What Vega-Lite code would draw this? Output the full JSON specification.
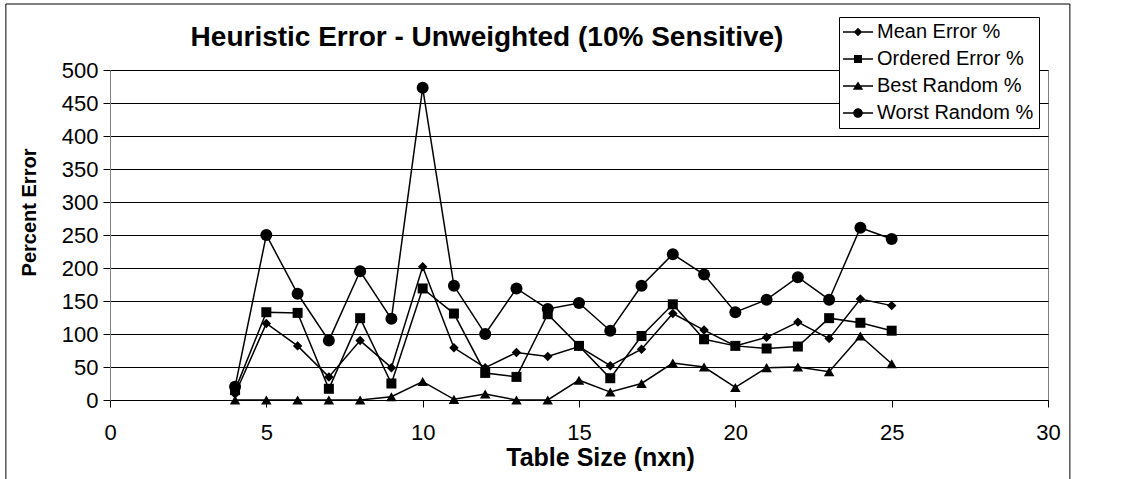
{
  "$schema": "https://vega.github.io/schema/vega-lite/v6.json",
  "width": 938,
  "height": 330,
  "autosize": "none",
  "padding": {"left": 110, "top": 70, "right": 76, "bottom": 79},
  "background": "white",
  "title": {
    "text": "Heuristic Error - Unweighted (10% Sensitive)",
    "font": "Liberation Sans",
    "fontSize": 28,
    "fontWeight": "bold",
    "color": "black",
    "anchor": "middle",
    "frame": "group",
    "dx": -92,
    "dy": 62,
    "offset": 14
  },
  "config": {
    "view": {"stroke": "#808080", "strokeWidth": 1},
    "axis": {
      "labelFont": "Liberation Sans",
      "titleFont": "Liberation Sans",
      "labelColor": "black",
      "titleColor": "black",
      "labelFontSize": 22,
      "titleFontWeight": "bold",
      "tickColor": "black",
      "tickSize": 7
    },
    "axisX": {
      "grid": false,
      "domainColor": "black",
      "labelPadding": 15,
      "titleFontSize": 25,
      "titlePadding": 2,
      "labelFlush": false
    },
    "axisY": {
      "grid": true,
      "gridColor": "black",
      "gridWidth": 1,
      "domainColor": "#808080",
      "labelPadding": 5,
      "titleFontSize": 20,
      "titlePadding": 22
    }
  },
  "datasets": {
    "frame": [{"frame": 1}],
    "errors": [
      {"n": 4, "series": "Mean Error %", "value": 9},
      {"n": 5, "series": "Mean Error %", "value": 116},
      {"n": 6, "series": "Mean Error %", "value": 82},
      {"n": 7, "series": "Mean Error %", "value": 35},
      {"n": 8, "series": "Mean Error %", "value": 90},
      {"n": 9, "series": "Mean Error %", "value": 49},
      {"n": 10, "series": "Mean Error %", "value": 202},
      {"n": 11, "series": "Mean Error %", "value": 79},
      {"n": 12, "series": "Mean Error %", "value": 49},
      {"n": 13, "series": "Mean Error %", "value": 72},
      {"n": 14, "series": "Mean Error %", "value": 66},
      {"n": 15, "series": "Mean Error %", "value": 81},
      {"n": 16, "series": "Mean Error %", "value": 52},
      {"n": 17, "series": "Mean Error %", "value": 77},
      {"n": 18, "series": "Mean Error %", "value": 131},
      {"n": 19, "series": "Mean Error %", "value": 106},
      {"n": 20, "series": "Mean Error %", "value": 82},
      {"n": 21, "series": "Mean Error %", "value": 95},
      {"n": 22, "series": "Mean Error %", "value": 118},
      {"n": 23, "series": "Mean Error %", "value": 93},
      {"n": 24, "series": "Mean Error %", "value": 153},
      {"n": 25, "series": "Mean Error %", "value": 143},
      {"n": 4, "series": "Ordered Error %", "value": 15},
      {"n": 5, "series": "Ordered Error %", "value": 133},
      {"n": 6, "series": "Ordered Error %", "value": 132},
      {"n": 7, "series": "Ordered Error %", "value": 17},
      {"n": 8, "series": "Ordered Error %", "value": 124},
      {"n": 9, "series": "Ordered Error %", "value": 25},
      {"n": 10, "series": "Ordered Error %", "value": 169},
      {"n": 11, "series": "Ordered Error %", "value": 131},
      {"n": 12, "series": "Ordered Error %", "value": 41},
      {"n": 13, "series": "Ordered Error %", "value": 35},
      {"n": 14, "series": "Ordered Error %", "value": 130},
      {"n": 15, "series": "Ordered Error %", "value": 82},
      {"n": 16, "series": "Ordered Error %", "value": 33},
      {"n": 17, "series": "Ordered Error %", "value": 97},
      {"n": 18, "series": "Ordered Error %", "value": 145},
      {"n": 19, "series": "Ordered Error %", "value": 92},
      {"n": 20, "series": "Ordered Error %", "value": 82},
      {"n": 21, "series": "Ordered Error %", "value": 78},
      {"n": 22, "series": "Ordered Error %", "value": 81},
      {"n": 23, "series": "Ordered Error %", "value": 124},
      {"n": 24, "series": "Ordered Error %", "value": 117},
      {"n": 25, "series": "Ordered Error %", "value": 105},
      {"n": 4, "series": "Best Random %", "value": 0},
      {"n": 5, "series": "Best Random %", "value": 0},
      {"n": 6, "series": "Best Random %", "value": 0},
      {"n": 7, "series": "Best Random %", "value": 0},
      {"n": 8, "series": "Best Random %", "value": 0},
      {"n": 9, "series": "Best Random %", "value": 5},
      {"n": 10, "series": "Best Random %", "value": 28},
      {"n": 11, "series": "Best Random %", "value": 1},
      {"n": 12, "series": "Best Random %", "value": 9},
      {"n": 13, "series": "Best Random %", "value": 0},
      {"n": 14, "series": "Best Random %", "value": 0},
      {"n": 15, "series": "Best Random %", "value": 30},
      {"n": 16, "series": "Best Random %", "value": 12},
      {"n": 17, "series": "Best Random %", "value": 25},
      {"n": 18, "series": "Best Random %", "value": 56},
      {"n": 19, "series": "Best Random %", "value": 50},
      {"n": 20, "series": "Best Random %", "value": 19},
      {"n": 21, "series": "Best Random %", "value": 49},
      {"n": 22, "series": "Best Random %", "value": 50},
      {"n": 23, "series": "Best Random %", "value": 43},
      {"n": 24, "series": "Best Random %", "value": 97},
      {"n": 25, "series": "Best Random %", "value": 55},
      {"n": 4, "series": "Worst Random %", "value": 20},
      {"n": 5, "series": "Worst Random %", "value": 250},
      {"n": 6, "series": "Worst Random %", "value": 161},
      {"n": 7, "series": "Worst Random %", "value": 90},
      {"n": 8, "series": "Worst Random %", "value": 195},
      {"n": 9, "series": "Worst Random %", "value": 123},
      {"n": 10, "series": "Worst Random %", "value": 473},
      {"n": 11, "series": "Worst Random %", "value": 173},
      {"n": 12, "series": "Worst Random %", "value": 100},
      {"n": 13, "series": "Worst Random %", "value": 169},
      {"n": 14, "series": "Worst Random %", "value": 138},
      {"n": 15, "series": "Worst Random %", "value": 147},
      {"n": 16, "series": "Worst Random %", "value": 105},
      {"n": 17, "series": "Worst Random %", "value": 173},
      {"n": 18, "series": "Worst Random %", "value": 221},
      {"n": 19, "series": "Worst Random %", "value": 190},
      {"n": 20, "series": "Worst Random %", "value": 133},
      {"n": 21, "series": "Worst Random %", "value": 152},
      {"n": 22, "series": "Worst Random %", "value": 186},
      {"n": 23, "series": "Worst Random %", "value": 152},
      {"n": 24, "series": "Worst Random %", "value": 261},
      {"n": 25, "series": "Worst Random %", "value": 244}
    ]
  },
  "layer": [
    {
      "data": {"name": "frame"},
      "mark": {"type": "rect", "fill": "transparent", "stroke": "black", "strokeWidth": 1, "clip": false},
      "encoding": {
        "x": {
          "datum": -3.33,
          "type": "quantitative",
          "title": "Table Size (nxn)",
          "scale": {"domain": [0, 30], "nice": false, "zero": false},
          "axis": {"values": [0, 5, 10, 15, 20, 25, 30], "titleX": 490}
        },
        "x2": {"datum": 30.7},
        "y": {
          "datum": 600,
          "type": "quantitative",
          "title": "Percent Error",
          "scale": {"domain": [0, 500], "nice": false},
          "axis": {"values": [0, 50, 100, 150, 200, 250, 300, 350, 400, 450, 500], "titleY": 142}
        },
        "y2": {"datum": -150}
      }
    },
    {
      "data": {"name": "errors"},
      "encoding": {
        "x": {
          "field": "n",
          "type": "quantitative",
          "title": "Table Size (nxn)",
          "scale": {"domain": [0, 30], "nice": false, "zero": false},
          "axis": {"values": [0, 5, 10, 15, 20, 25, 30], "titleX": 490}
        },
        "y": {
          "field": "value",
          "type": "quantitative",
          "title": "Percent Error",
          "scale": {"domain": [0, 500], "nice": false},
          "axis": {"values": [0, 50, 100, 150, 200, 250, 300, 350, 400, 450, 500], "titleY": 142}
        }
      },
      "layer": [
        {
          "mark": {"type": "line", "color": "black", "strokeWidth": 1.5},
          "encoding": {"detail": {"field": "series"}}
        },
        {
          "transform": [{"filter": "datum.series === 'Mean Error %'"}],
          "mark": {"type": "point", "shape": "diamond", "size": 90, "filled": true, "color": "black", "opacity": 1}
        },
        {
          "transform": [{"filter": "datum.series === 'Ordered Error %'"}],
          "mark": {"type": "point", "shape": "square", "size": 100, "filled": true, "color": "black", "opacity": 1}
        },
        {
          "transform": [{"filter": "datum.series === 'Best Random %'"}],
          "mark": {"type": "point", "shape": "triangle-up", "size": 110, "filled": true, "color": "black", "opacity": 1}
        },
        {
          "transform": [{"filter": "datum.series === 'Worst Random %'"}],
          "mark": {"type": "point", "shape": "circle", "size": 144, "filled": true, "color": "black", "opacity": 1}
        },
        {
          "mark": {"type": "point", "filled": true, "color": "black", "opacity": 0},
          "encoding": {
            "shape": {
              "field": "series",
              "type": "nominal",
              "scale": {
                "domain": ["Mean Error %", "Ordered Error %", "Best Random %", "Worst Random %"],
                "range": [
                  "M-1.5,-0.075H1.5V0.075H-1.5ZM0,-0.42L0.42,0L0,0.42L-0.42,0Z",
                  "M-1.5,-0.075H1.5V0.075H-1.5ZM-0.4,-0.4H0.4V0.4H-0.4Z",
                  "M-1.5,-0.075H1.5V0.075H-1.5ZM0,-0.45L0.52,0.38H-0.52Z",
                  "M-1.5,-0.075H1.5V0.075H-1.5ZM0.48,0A0.48,0.48,0,1,1,-0.48,0A0.48,0.48,0,1,1,0.48,0Z"
                ]
              },
              "legend": {
                "orient": "none",
                "legendX": 729,
                "legendY": -53,
                "title": null,
                "labelFont": "Liberation Sans",
                "labelFontSize": 20,
                "labelColor": "black",
                "labelLimit": 400,
                "labelOffset": 9,
                "symbolSize": 400,
                "symbolStrokeWidth": 0,
                "symbolFillColor": "black",
                "symbolOpacity": 1,
                "symbolOffset": 4,
                "strokeColor": "black",
                "fillColor": "white",
                "padding": 5,
                "rowPadding": 7,
                "encode": {
                  "symbols": {
                    "update": {
                      "fill": {"value": "black"},
                      "opacity": {"value": 1}
                    }
                  }
                }
              }
            }
          }
        }
      ]
    }
  ]
}
